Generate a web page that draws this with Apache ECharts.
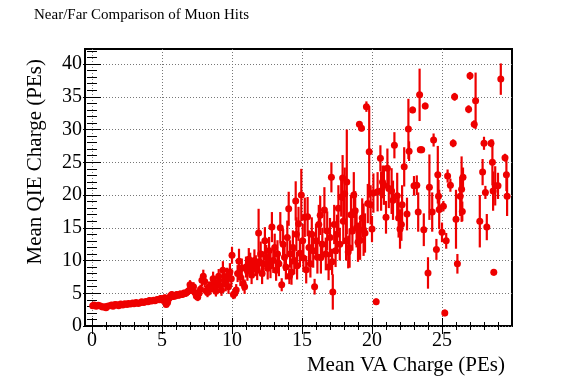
<!DOCTYPE html>
<html>
<head>
<meta charset="utf-8">
<script src="https://cdn.jsdelivr.net/npm/echarts@6/dist/echarts.min.js"></script>
<style>
html,body{margin:0;padding:0;background:#fff;}
#c{width:567px;height:384px;}
</style>
</head>
<body>
<div id="c"></div>
<script>
// Mean VA charge (x), mean QIE charge (y), error on QIE charge
var vaCharge = [
0.05,0.15,0.3,0.45,0.6,0.75,0.9,1.0,1.1,1.25,1.4,1.5,1.65,1.8,1.9,2.05,2.2,2.35,2.5,2.6,2.75,2.9,3.0,3.15,3.3,3.45,3.55,3.7,3.85,4.0,
4.1,4.25,4.4,4.5,4.65,4.8,4.9,5.0,5.1,5.2,5.3,5.4,5.5,5.6,5.7,5.8,5.95,6.05,6.2,6.3,6.45,6.55,6.7,6.8,6.9,7.0,7.05,7.15,7.25,7.35,
7.45,7.55,7.65,7.75,7.85,7.95,8.05,8.15,8.25,8.35,8.45,8.55,8.65,8.75,8.85,8.95,9.05,9.15,9.25,9.35,9.45,9.55,9.65,9.75,9.85,9.95,10.0,10.1,10.2,10.3,
10.4,10.5,10.6,10.7,10.8,10.9,11.0,11.1,11.2,11.3,11.4,11.5,11.6,11.7,11.8,11.9,11.95,12.05,12.15,12.25,12.35,12.45,12.55,12.65,12.75,12.85,12.95,13.05,13.15,13.25,
13.35,13.45,13.55,13.65,13.75,13.85,13.95,14.05,14.1,14.15,14.25,14.35,14.45,14.55,14.6,14.65,14.75,14.85,14.95,15.05,15.1,15.2,15.3,15.4,15.5,15.6,15.7,15.8,15.9,16.0,
16.1,16.2,16.3,16.35,16.45,16.6,16.7,16.8,16.9,17.0,17.1,17.15,17.2,17.3,17.4,17.5,17.6,17.7,17.8,17.9,17.95,18.05,18.15,18.2,18.3,18.4,18.5,18.6,18.7,18.8,
18.9,19.0,19.1,19.15,19.25,19.3,19.4,19.5,19.6,19.7,19.8,19.9,20.0,20.1,20.3,20.4,20.6,20.65,20.75,20.85,21.0,21.1,21.2,21.4,21.5,21.6,21.8,21.9,22.0,22.1,
22.15,22.3,22.5,22.6,22.65,22.9,23.0,23.2,23.3,23.4,23.45,23.55,23.7,23.8,24.0,24.1,24.3,24.4,24.6,24.7,24.75,24.8,25.0,25.1,25.2,25.3,25.4,25.6,25.8,25.9,
26.0,26.1,26.3,26.4,26.45,26.5,26.9,27.0,27.3,27.4,27.7,27.9,28.0,28.1,28.2,28.5,28.6,28.65,28.7,28.8,29.0,29.2,29.5,29.6,29.65
];
var qieCharge = [
3.1,3.2,3.0,3.15,3.05,2.9,2.95,2.8,3.0,3.1,3.2,3.0,3.3,3.25,3.1,3.35,3.2,3.4,3.3,3.45,3.35,3.5,3.4,3.6,3.45,3.55,3.7,3.6,3.75,3.7,
3.9,3.8,3.95,3.85,4.05,4.0,4.2,4.1,3.9,4.3,3.3,3.6,4.2,4.6,4.8,4.5,4.6,4.8,4.7,4.9,4.8,5.0,5.0,5.2,5.4,6.3,5.8,5.5,6.0,5.1,
4.6,4.4,5.0,5.6,7.0,7.6,6.8,5.4,5.1,6.0,5.6,6.3,7.2,6.0,5.3,6.6,7.6,6.2,5.5,8.5,7.0,6.4,7.6,6.0,8.3,7.2,10.8,4.8,5.0,5.5,
8.0,9.9,7.5,8.8,6.5,6.0,9.0,8.4,10.2,9.6,7.8,8.8,10.0,9.2,8.5,14.2,9.8,11.0,8.0,9.5,13.0,10.5,8.8,11.5,9.2,15.1,10.0,12.0,8.5,11.0,
9.5,15.0,6.3,12.5,10.5,9.0,13.5,17.9,7.6,11.0,8.2,12.0,10.0,19.1,14.0,9.2,15.6,11.1,20.0,13.0,10.4,16.6,8.6,16.7,12.0,9.5,14.0,11.5,6.0,13.0,
10.5,15.5,16.9,10.5,12.5,17.7,11.0,14.5,9.0,13.5,22.7,9.8,5.2,15.5,11.5,14.0,18.0,12.5,19.7,22.6,16.0,20.2,13.0,22.0,11.3,11.9,17.0,14.5,20.0,17.6,
15.0,12.8,30.8,13.1,30.2,16.5,14.7,14.2,33.5,18.7,26.6,18.5,14.8,20.3,3.7,20.5,25.6,20.6,22.0,21.5,16.6,24.1,21.0,20.6,19.2,27.6,19.9,16.5,14.8,15.5,
18.5,24.3,17.1,30.1,26.7,33.0,21.4,21.5,17.4,35.3,26.9,26.9,14.7,33.6,8.1,21.2,17.4,28.4,11.7,23.1,19.8,17.8,14.3,18.3,2.0,13.0,22.9,21.5,27.9,35.0,
16.3,9.5,19.8,20.9,17.5,22.7,33.1,38.2,30.8,34.4,16.0,23.5,27.9,20.4,15.1,27.9,25.0,20.6,8.2,21.4,21.4,37.7,25.7,23.1,19.8
];
var qieError = [
0.4,0.4,0.4,0.4,0.4,0.4,0.4,0.4,0.4,0.4,0.4,0.4,0.4,0.4,0.4,0.4,0.4,0.4,0.4,0.4,0.4,0.4,0.4,0.4,0.4,0.4,0.4,0.4,0.4,0.4,
0.45,0.45,0.45,0.45,0.45,0.45,0.5,0.5,0.5,0.5,0.45,0.45,0.5,0.5,0.5,0.5,0.5,0.5,0.5,0.5,0.5,0.55,0.55,0.55,0.6,0.7,0.6,0.6,0.7,0.6,
0.6,0.6,0.6,0.7,0.9,1.0,0.9,0.7,0.7,0.8,0.8,0.9,1.1,0.9,0.8,1.0,1.1,1.0,0.9,1.4,1.1,1.1,1.3,1.1,1.3,1.2,1.3,0.7,0.8,0.9,
1.3,1.9,1.4,1.5,1.1,1.1,1.6,1.5,1.7,1.6,1.4,1.5,1.7,1.6,1.5,3.7,1.7,1.9,1.6,1.9,2.1,1.9,1.7,2.1,1.9,2.3,1.9,2.1,1.6,2.1,
1.9,2.4,1.0,2.3,2.1,1.9,2.6,2.6,1.2,2.1,1.9,2.6,2.1,3.0,2.6,2.1,2.6,2.1,4.0,2.6,2.1,3.0,2.1,3.0,2.6,2.1,2.6,2.6,1.2,2.6,
2.5,3.0,3.0,2.5,2.5,3.5,2.5,3.0,2.0,3.0,2.3,2.0,2.7,3.0,2.5,3.0,3.5,2.5,3.0,3.5,3.5,4.0,3.0,8.0,2.5,3.0,3.0,3.0,3.5,3.0,
3.0,3.0,0.5,3.0,0.5,3.0,4.0,3.0,0.8,3.0,7.0,3.0,2.0,3.0,0.5,3.0,2.0,3.0,2.5,3.0,2.5,3.0,3.0,3.5,3.0,2.0,3.5,3.0,3.0,2.5,
3.0,3.0,2.5,4.6,1.5,0.5,1.5,1.5,3.0,4.0,0.5,0.5,2.5,0.5,2.4,5.0,3.0,1.0,1.6,4.4,2.5,3.0,1.5,0.8,0.5,1.2,1.0,1.0,0.6,0.6,
4.5,1.5,3.0,5.0,1.5,1.5,0.6,0.6,0.6,4.3,4.0,2.0,1.0,1.0,2.0,0.6,3.5,3.0,0.5,3.0,2.0,2.4,0.6,2.5,3.0
];
var xMajorTicks = [0, 5, 10, 15, 20, 25];
var xMinorTicks = [0,1,2,3,4,5,6,7,8,9,10,11,12,13,14,15,16,17,18,19,20,21,22,23,24,25,26,27,28,29];
var yMajorTicks = [0, 5, 10, 15, 20, 25, 30, 35, 40];
var yMinorTicks = [0,1,2,3,4,5,6,7,8,9,10,11,12,13,14,15,16,17,18,19,20,21,22,23,24,25,26,27,28,29,30,31,32,33,34,35,36,37,38,39,40,41,42];

var RED = '#ee0000';
var FONT = 'Liberation Serif';
var points = [];
for (var i = 0; i < vaCharge.length; i++) {
  points.push([vaCharge[i], qieCharge[i], qieError[i]]);
}

function xAxisDef(pos, ticks, len, withLabels, withGrid) {
  return {
    type: 'value', min: -0.5, max: 30, position: pos,
    axisLine: { show: false },
    axisTick: { show: true, inside: true, length: len, customValues: ticks, lineStyle: { color: '#000', width: 1 } },
    axisLabel: { show: withLabels, customValues: ticks, color: '#000', fontFamily: FONT, fontSize: 20, margin: 5 },
    splitLine: { show: withGrid, lineStyle: { color: '#777', width: 1, type: [1, 2] } },
    minorTick: { show: false }
  };
}
function yAxisDef(pos, ticks, len, withLabels, withGrid) {
  return {
    type: 'value', min: 0, max: 42.3, position: pos,
    axisLine: { show: false },
    axisTick: { show: true, inside: true, length: len, customValues: ticks, lineStyle: { color: '#000', width: 1 } },
    axisLabel: { show: withLabels, customValues: ticks, color: '#000', fontFamily: FONT, fontSize: 20, margin: 3 },
    splitLine: { show: withGrid, lineStyle: { color: '#777', width: 1, type: [1, 2] } },
    minorTick: { show: false }
  };
}

var chart = echarts.init(document.getElementById('c'), null, { renderer: 'canvas' });
chart.setOption({
  animation: false,
  backgroundColor: '#fff',
  title: {
    text: 'Near/Far Comparison of Muon Hits',
    left: 29, top: 3,
    textStyle: { fontFamily: FONT, fontSize: 15, fontWeight: 'normal', color: '#000' }
  },
  grid: { left: 85, top: 49, width: 427, height: 277, show: true, borderColor: '#000', borderWidth: 2, backgroundColor: 'transparent' },
  xAxis: [
    xAxisDef('bottom', xMajorTicks, 8, true, true),
    xAxisDef('bottom', xMinorTicks, 4, false, false),
    xAxisDef('top', xMajorTicks, 8, false, false),
    xAxisDef('top', xMinorTicks, 4, false, false)
  ],
  yAxis: [
    yAxisDef('left', yMajorTicks, 9, true, true),
    yAxisDef('left', yMinorTicks, 5, false, false),
    yAxisDef('right', yMajorTicks, 9, false, false),
    yAxisDef('right', yMinorTicks, 5, false, false)
  ],
  graphic: [
    { type: 'text', x: 35, y: 59, rotation: Math.PI / 2,
      style: { text: 'Mean QIE Charge (PEs)', font: '21px "Liberation Serif"', fill: '#000', align: 'right', verticalAlign: 'middle' } },
    { type: 'text', x: 505, y: 365,
      style: { text: 'Mean VA Charge (PEs)', font: '21px "Liberation Serif"', fill: '#000', align: 'right', verticalAlign: 'middle' } }
  ],
  series: [
    {
      type: 'custom',
      clip: true,
      data: points,
      encode: { x: 0, y: 1 },
      renderItem: function (params, api) {
        var x = api.value(0), y = api.value(1), e = api.value(2);
        var p1 = api.coord([x, y - e]);
        var p2 = api.coord([x, y + e]);
        return {
          type: 'line',
          shape: { x1: p1[0], y1: p1[1], x2: p2[0], y2: p2[1] },
          style: { stroke: RED, lineWidth: 2.2 }
        };
      },
      z: 2
    },
    {
      type: 'scatter',
      data: points,
      symbol: 'circle',
      symbolSize: 7,
      itemStyle: { color: RED, opacity: 1 },
      z: 3
    }
  ]
});
</script>
</body>
</html>
